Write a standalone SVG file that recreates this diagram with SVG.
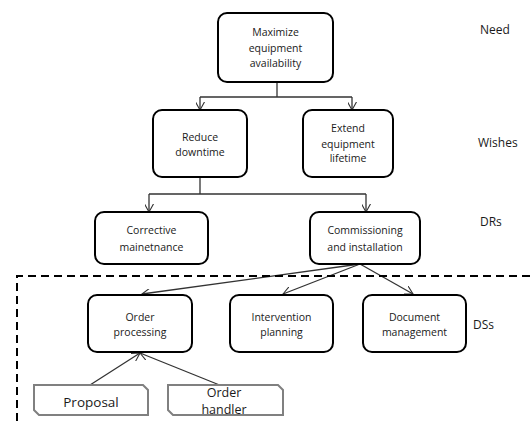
<svg xmlns="http://www.w3.org/2000/svg" width="530" height="421" viewBox="0 0 530 421">
<defs>
<marker id="v" viewBox="0 0 10 10" refX="9" refY="5" markerWidth="9" markerHeight="9" markerUnits="userSpaceOnUse" orient="auto">
<path d="M0,0 L9,5 L0,10" fill="none" stroke="#333" stroke-width="1.2"/>
</marker>
<style>
.box{fill:#fff;stroke:#000;stroke-width:2}
.doc{fill:#fff;stroke:#808080;stroke-width:2}
.t{font-family:"Open Sans","Noto Sans",sans-serif;font-size:10.5px;fill:#1a1a1a;text-anchor:middle}
.tl{font-family:"Open Sans","Noto Sans",sans-serif;font-size:13.5px;fill:#1a1a1a;text-anchor:middle}
.ts{font-family:"Open Sans","Noto Sans",sans-serif;font-size:12.5px;fill:#1a1a1a;text-anchor:middle}
.lab{font-family:"Open Sans","Noto Sans",sans-serif;font-size:12px;fill:#1a1a1a}
.c{fill:none;stroke:#333;stroke-width:1.3}
.ca{fill:none;stroke:#333;stroke-width:1.3;marker-end:url(#v)}
.dash{fill:none;stroke:#000;stroke-width:2;stroke-dasharray:8,5}
</style>
</defs>
<g id="connectors">
<path class="c" d="M277,82 V97 M200,97 H352"/>
<path class="ca" d="M200,97 V110"/>
<path class="ca" d="M352,97 V110"/>
<path class="c" d="M200,177 V194 M149,194 H366"/>
<path class="ca" d="M149,194 V212"/>
<path class="ca" d="M366,194 V212"/>
<path class="ca" d="M360,264 L142,294"/>
<path class="ca" d="M360,264 L283,294"/>
<path class="ca" d="M360,264 L413,294"/>
<path class="ca" d="M90,385 L140,353"/>
<path class="ca" d="M222,386 L140,353"/>
</g>
<g id="boundary"><path class="dash" d="M17,421 V276 H530"/></g>
<g id="maximize">
<rect class="box" x="218" y="13" width="115" height="69" rx="9"/>
<text class="t" x="275.5" y="36">Maximize</text>
<text class="t" x="275.5" y="52">equipment</text>
<text class="t" x="275.5" y="67">availability</text>
</g>
<g id="reduce">
<rect class="box" x="153" y="110" width="94" height="67" rx="9"/>
<text class="t" x="200" y="141">Reduce</text>
<text class="t" x="200" y="156">downtime</text>
</g>
<g id="extend">
<rect class="box" x="303" y="110" width="90" height="67" rx="9"/>
<text class="t" x="348" y="132">Extend</text>
<text class="t" x="348" y="148">equipment</text>
<text class="t" x="348" y="162">lifetime</text>
</g>
<g id="corrective">
<rect class="box" x="95" y="212" width="113" height="52" rx="9"/>
<text class="t" x="151.5" y="234">Corrective</text>
<text class="t" x="151.5" y="251">mainetnance</text>
</g>
<g id="commissioning">
<rect class="box" x="310" y="212" width="110" height="52" rx="9"/>
<text class="t" x="365" y="234">Commissioning</text>
<text class="t" x="365" y="251">and installation</text>
</g>
<g id="order">
<rect class="box" x="88" y="295" width="104" height="57" rx="9"/>
<text class="t" x="140" y="321">Order</text>
<text class="t" x="140" y="336">processing</text>
</g>
<g id="intervention">
<rect class="box" x="230" y="295" width="103" height="57" rx="9"/>
<text class="t" x="281.5" y="321">Intervention</text>
<text class="t" x="281.5" y="336">planning</text>
</g>
<g id="document">
<rect class="box" x="363" y="295" width="103" height="57" rx="9"/>
<text class="t" x="414.5" y="321">Document</text>
<text class="t" x="414.5" y="336">management</text>
</g>
<g id="proposal">
<path class="doc" d="M34,385 H143 L148,390 V415 H39 L34,410 Z"/>
<text class="tl" x="91" y="407">Proposal</text>
</g>
<g id="handler">
<path class="doc" d="M168,385 H278 L283,390 V415 H173 L168,410 Z"/>
<text class="ts" x="224" y="397">Order</text>
<text class="ts" x="224" y="414">handler</text>
</g>
<g id="labels">
<text class="lab" x="480" y="34">Need</text>
<text class="lab" x="478" y="147">Wishes</text>
<text class="lab" x="480" y="226">DRs</text>
<text class="lab" x="473" y="329">DSs</text>
</g>
</svg>
